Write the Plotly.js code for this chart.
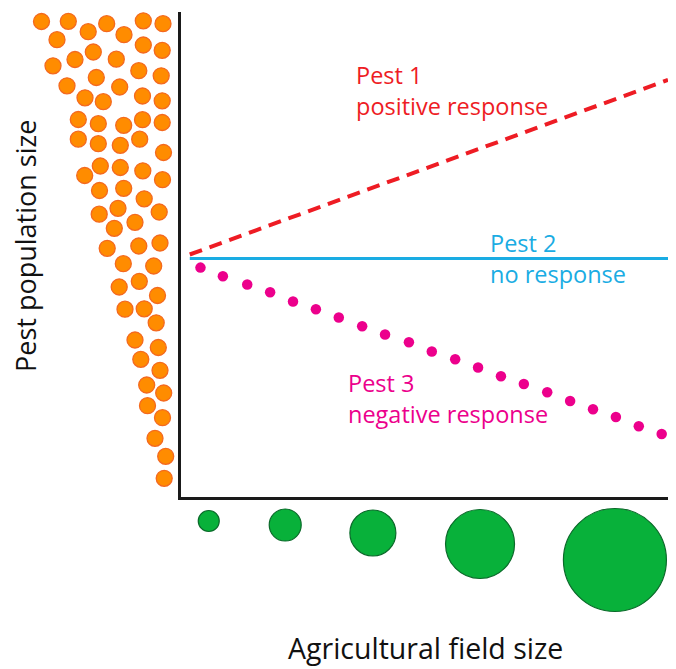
<!DOCTYPE html>
<html>
<head>
<meta charset="utf-8">
<script src="https://cdn.plot.ly/plotly-3.0.1.min.js"></script>
<style>
  html, body { margin: 0; padding: 0; background: #ffffff; }
  #chart { width: 676px; height: 669px; }
</style>
</head>
<body>
<div id="chart"></div>
<script>
// ---------------- data ----------------
// Main panel: x = agricultural field size (0-100), y = pest population size (0-100)
const pest1X = [1.8, 100];
const pest1Y = [50.0, 86.0];

const pest2X = [1.8, 100];
const pest2Y = [49.2, 49.2];

const pest3X = [4.0, 8.6, 13.6, 18.3, 23.0, 27.7, 32.4, 37.2, 41.9, 46.8, 51.5,
                56.3, 61.0, 65.7, 70.4, 75.2, 79.9, 84.6, 89.3, 94.0, 98.7];
const pest3Y = [47.3, 45.5, 43.8, 42.2, 40.3, 38.7, 37.0, 35.2, 33.5, 31.9, 30.0,
                28.4, 26.7, 24.9, 23.3, 21.6, 19.8, 18.1, 16.5, 14.6, 13.0];

// Field-size icons (green circles), panel under the x axis (shares the x scale)
const fieldX    = [5.7, 21.4, 39.4, 61.4, 89.1];
const fieldY    = [23, 27, 35, 46, 62];
const fieldSize = [21, 32, 46, 69, 103];

// Pest population icons (orange dots), left strip panel
const dotsX = [41.5, 68.3, 88.2, 106.7, 124, 143.3, 163, 57, 143.3, 162.2, 93.3,
               75, 116.3, 53, 138.8, 161.2, 96.3, 67, 119.7, 85, 103.3, 142.5,
               162.2, 78.3, 98.3, 123.7, 142.5, 162.2, 78.3, 98.3, 120.3, 139.7,
               163.5, 84.7, 100.3, 120.3, 142.8, 162.5, 99.5, 123.7, 144.2, 118,
               159.2, 99.2, 135, 114.3, 160, 138.8, 107.2, 123.3, 153.7, 139.3,
               119.2, 157.5, 125, 144.2, 156.2, 135, 158.3, 140.8, 160, 146.7,
               163.7, 147.5, 162.5, 155, 165.7, 164.2];
const dotsY = [21.5, 21.3, 31.7, 23.7, 34.7, 20.8, 23.7, 39.7, 45, 50.3, 52,
               59.5, 59.2, 65.8, 70.7, 75.8, 77.5, 85.8, 87, 97.8, 101.7, 96,
               100.8, 119.5, 123.7, 125.3, 119.7, 122.5, 139.2, 143.7, 145.3, 139.2,
               152.5, 175.5, 166, 167.5, 170.8, 179.7, 190.5, 188.3, 198.8, 208.3,
               212, 214.2, 222.3, 228.3, 243, 246, 248.3, 263.7, 266, 281.3,
               287, 295.5, 309.2, 308.8, 322.8, 340, 347.5, 359.3, 370.3, 385,
               393, 405.7, 417.7, 438.3, 456.3, 478.3];

const seriesNames = ['Pest 1', 'Pest 2', 'Pest 3'];
const responses   = ['positive response', 'no response', 'negative response'];
const labelX      = [35.6, 63.0, 33.9];
const labelY      = [83.8, 49.1, 20.4];
const xTitle = 'Agricultural field size';
const yTitle = 'Pest population size';

// ---------------- styles ----------------
const RED = '#ee1c24', CYAN = '#1aace3', MAGENTA = '#ec008c';
const FONT = 'Open Sans, Noto Sans, sans-serif';
const seriesColors = [RED, CYAN, MAGENTA];

const traces = [
  { x: pest1X, y: pest1Y, type: 'scatter', mode: 'lines', name: seriesNames[0],
    line: { color: RED, width: 4, dash: '13px,8px' }, hoverinfo: 'skip' },
  { x: pest2X, y: pest2Y, type: 'scatter', mode: 'lines', name: seriesNames[1],
    line: { color: CYAN, width: 3 }, hoverinfo: 'skip' },
  { x: pest3X, y: pest3Y, type: 'scatter', mode: 'markers', name: seriesNames[2],
    marker: { color: MAGENTA, size: 10.5, opacity: 1, line: { width: 0 } }, hoverinfo: 'skip' },
  { x: fieldX, y: fieldY, xaxis: 'x', yaxis: 'y3', type: 'scatter', mode: 'markers',
    name: 'Field size', cliponaxis: false,
    marker: { color: '#08b13a', size: fieldSize, sizemode: 'diameter', opacity: 1,
              line: { color: '#0b6a2a', width: 1.2 } }, hoverinfo: 'skip' },
  { x: dotsX, y: dotsY, xaxis: 'x2', yaxis: 'y2', type: 'scatter', mode: 'markers',
    name: 'Pests', cliponaxis: false,
    marker: { color: '#ff8c00', size: 16, opacity: 1, line: { color: '#f4691f', width: 1.3 } },
    hoverinfo: 'skip' }
];

const annotations = seriesNames.map((n, i) => ({
  x: labelX[i], y: labelY[i], xref: 'x', yref: 'y',
  xanchor: 'left', yanchor: 'middle', align: 'left', showarrow: false,
  text: n + '<br>' + responses[i],
  font: { family: FONT, size: 23.5, color: seriesColors[i] }
}));
annotations.push({
  x: 425 / 676, y: 0, xref: 'paper', yref: 'paper',
  xanchor: 'center', yanchor: 'bottom', showarrow: false,
  text: xTitle, font: { family: FONT, size: 28.5, color: '#111111' }
});
annotations.push({
  x: 26 / 676, y: (669 - 246) / 669, xref: 'paper', yref: 'paper',
  xanchor: 'center', yanchor: 'middle', showarrow: false, textangle: -90,
  text: yTitle, font: { family: FONT, size: 27, color: '#111111' }
});

const hiddenAxis = { showgrid: false, zeroline: false, showticklabels: false,
                     ticks: '', showline: false, fixedrange: true };

const layout = {
  width: 676, height: 669,
  margin: { l: 0, r: 0, t: 0, b: 0 },
  paper_bgcolor: '#ffffff', plot_bgcolor: 'rgba(0,0,0,0)',
  showlegend: false,
  font: { family: FONT },
  xaxis: Object.assign({}, hiddenAxis, {
    domain: [181 / 676, 668 / 676], range: [0, 100],
    showline: true, linewidth: 3, linecolor: '#1a1a1a', anchor: 'y'
  }),
  yaxis: Object.assign({}, hiddenAxis, {
    domain: [(669 - 497) / 669, (669 - 12) / 669], range: [0, 100],
    showline: true, linewidth: 3, linecolor: '#1a1a1a', anchor: 'x'
  }),
  yaxis3: Object.assign({}, hiddenAxis, {
    domain: [0, 171 / 669], range: [171, 0], anchor: 'x'
  }),
  xaxis2: Object.assign({}, hiddenAxis, {
    domain: [0, 181 / 676], range: [0, 181], anchor: 'y2'
  }),
  yaxis2: Object.assign({}, hiddenAxis, {
    domain: [0, 1], range: [669, 0], anchor: 'x2'
  }),
  annotations: annotations
};

Plotly.newPlot('chart', traces, layout, { staticPlot: true, displayModeBar: false });
</script>
</body>
</html>
